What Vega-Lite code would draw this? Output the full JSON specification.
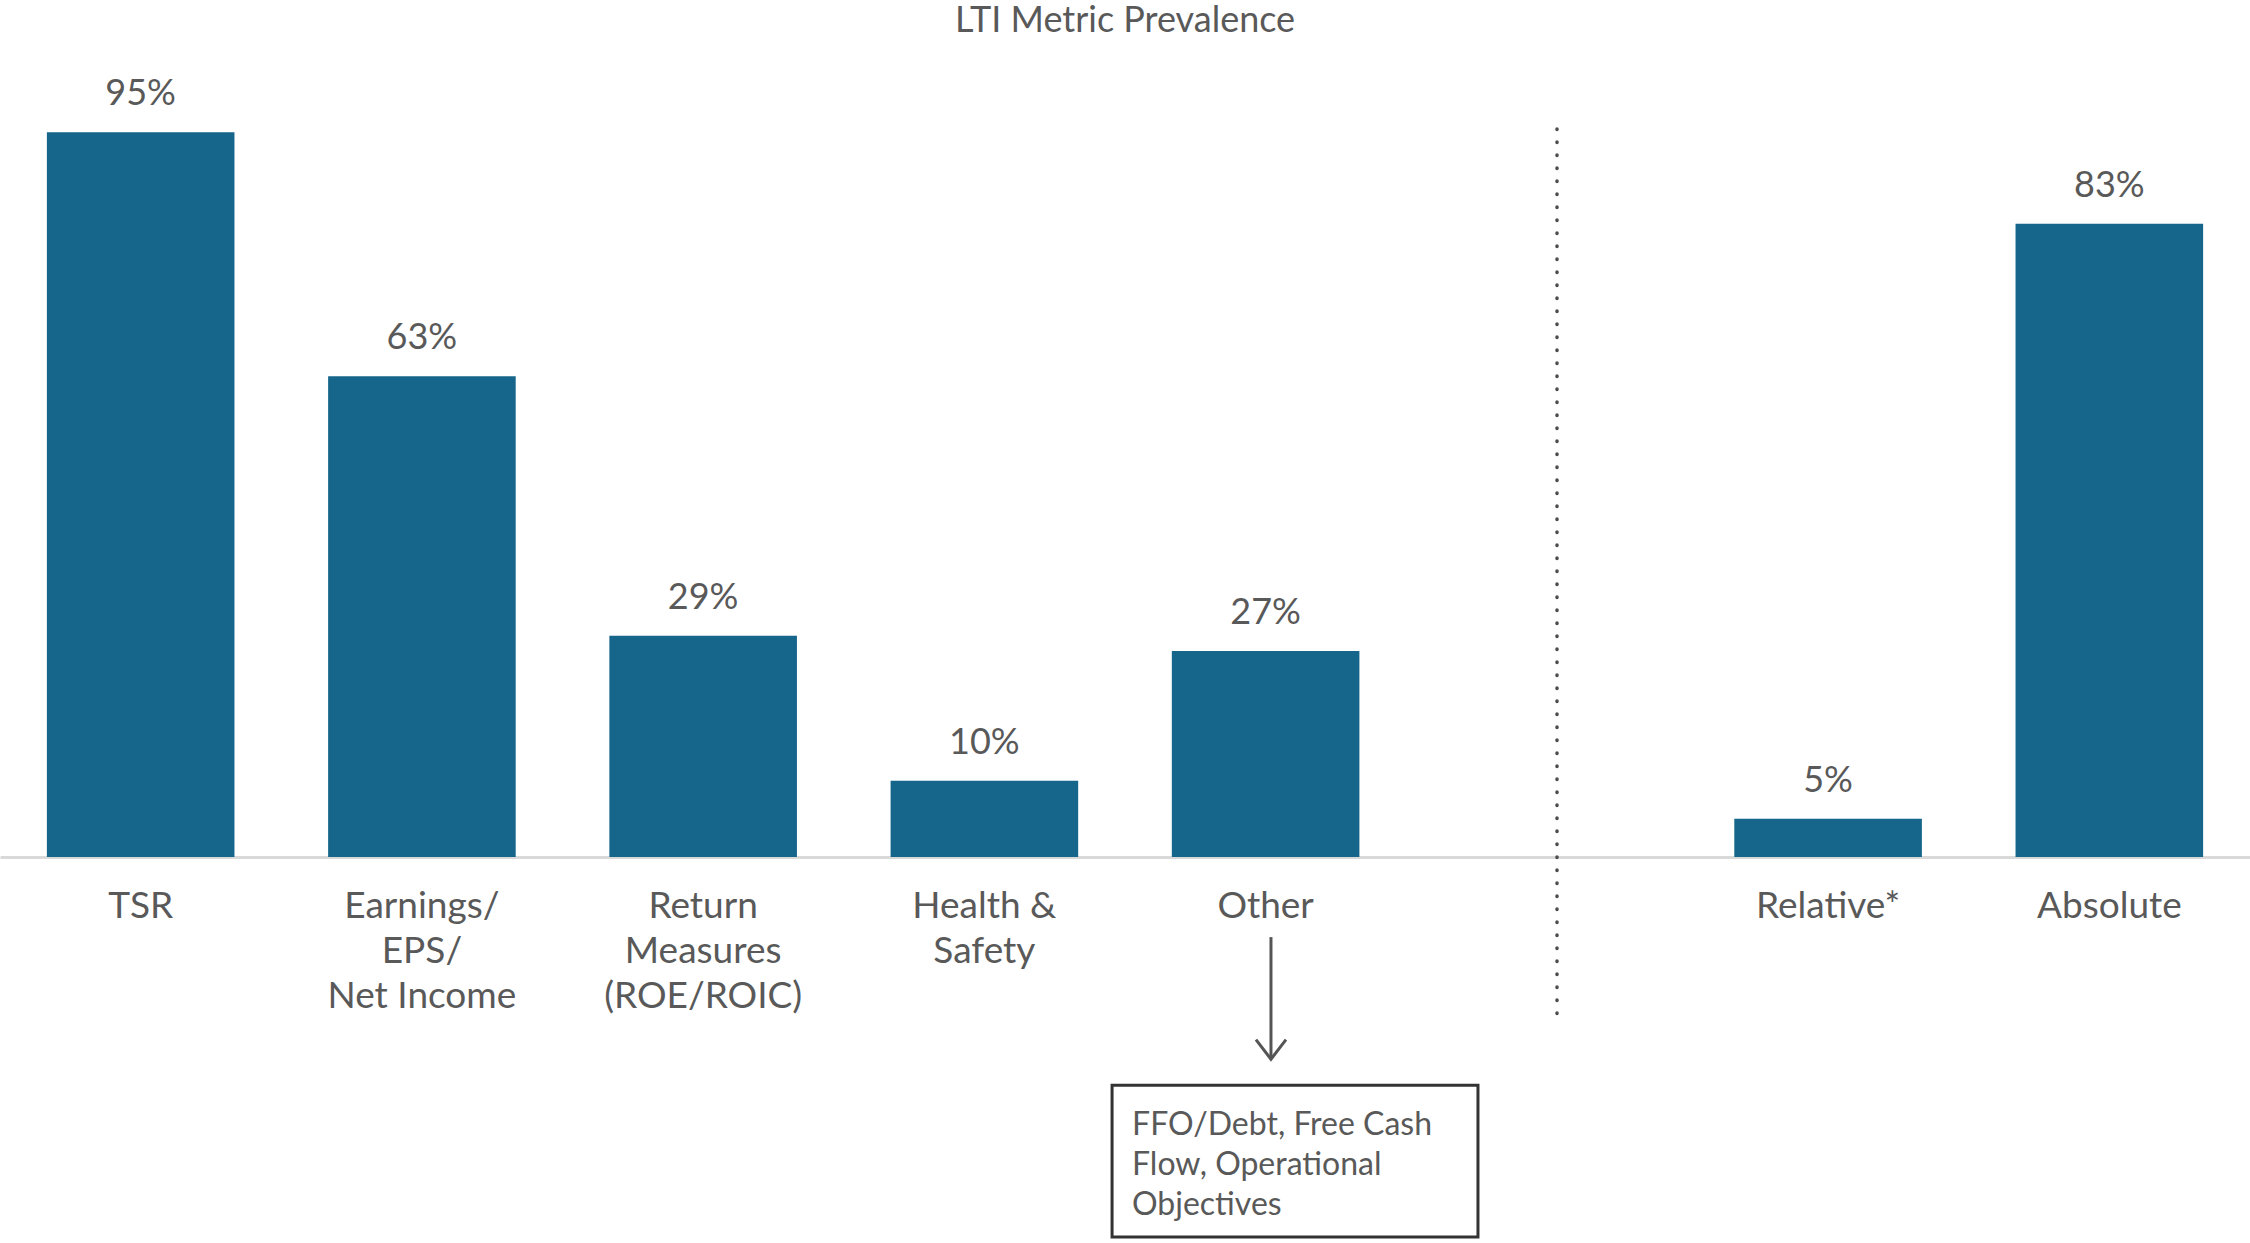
{
  "$schema": "https://vega.github.io/schema/vega-lite/v6.json",
  "width": 2250,
  "height": 763,
  "autosize": {"type": "none"},
  "padding": {"left": 0, "top": 94, "right": 0, "bottom": 386},
  "background": "white",
  "config": {"view": {"stroke": null}, "font": "Lato"},
  "title": {"text": "LTI Metric Prevalence", "fontSize": 36, "font": "Lato", "fontWeight": "normal", "color": "#595959", "frame": "group", "anchor": "middle", "baseline": "alphabetic", "offset": 8},
  "datasets": {
    "bars": [
      {"cat": "TSR", "value": 95, "label": "95%"},
      {"cat": "Earnings/|EPS/|Net Income", "value": 63, "label": "63%"},
      {"cat": "Return|Measures|(ROE/ROIC)", "value": 29, "label": "29%"},
      {"cat": "Health &|Safety", "value": 10, "label": "10%"},
      {"cat": "Other", "value": 27, "label": "27%"},
      {"cat": "Relative*", "value": 5, "label": "5%"},
      {"cat": "Absolute", "value": 83, "label": "83%"}
    ]
  },
  "layer": [
    {
      "data": {"name": "bars"},
      "encoding": {
        "x": {
          "field": "cat", "type": "nominal", "sort": null,
          "scale": {"domain": ["TSR", "Earnings/|EPS/|Net Income", "Return|Measures|(ROE/ROIC)", "Health &|Safety", "Other", "gap", "Relative*", "Absolute"], "paddingInner": 0.333, "paddingOuter": 0.1667},
          "axis": {"title": null, "orient": "bottom", "domainColor": "#d9d9d9", "domainWidth": 3, "ticks": false, "labelFontSize": 37, "labelColor": "#595959", "labelPadding": 31, "labelBaseline": "top", "labelLineHeight": 45, "labelAngle": 0, "labelLimit": 400, "labelFont": "Lato", "labelExpr": "datum.value == 'gap' ? '' : split(datum.value, '|')"}
        },
        "y": {"field": "value", "type": "quantitative", "scale": {"domain": [0, 100], "nice": false, "zero": false}, "axis": null}
      },
      "layer": [
        {"mark": {"type": "bar", "color": "#16668b"}},
        {
          "mark": {"type": "text", "dy": -27, "baseline": "alphabetic", "fontSize": 36, "color": "#595959", "font": "Lato"},
          "encoding": {"text": {"field": "label"}}
        }
      ]
    },
    {
      "layer": [
        {
          "data": {"values": [{"x": 5.536, "y": 95.4, "y2": -21.5}]},
          "mark": {"type": "rule", "color": "#4d4d4d", "strokeWidth": 3.5, "strokeDash": [0.5, 12.5], "strokeCap": "round"},
          "encoding": {
            "x": {"field": "x", "type": "quantitative", "scale": {"domain": [0, 8], "nice": false, "zero": false}, "axis": null},
            "y": {"field": "y", "type": "quantitative", "scale": {"domain": [0, 100], "nice": false, "zero": false}, "axis": null},
            "y2": {"field": "y2"}
          }
        },
        {
          "data": {"values": [{"x": 4.519, "y": -10.5, "y2": -26.3}]},
          "mark": {"type": "rule", "color": "#555555", "strokeWidth": 3},
          "encoding": {
            "x": {"field": "x", "type": "quantitative", "scale": {"domain": [0, 8], "nice": false, "zero": false}, "axis": null},
            "y": {"field": "y", "type": "quantitative", "scale": {"domain": [0, 100], "nice": false, "zero": false}, "axis": null},
            "y2": {"field": "y2"}
          }
        },
        {
          "data": {"values": [{"x": 4.519, "y": -26.5}]},
          "mark": {"type": "point", "shape": "M-1,-1.3L0,0L1,-1.3", "size": 900, "filled": false, "color": "#555555", "strokeWidth": 3, "opacity": 1},
          "encoding": {
            "x": {"field": "x", "type": "quantitative", "scale": {"domain": [0, 8], "nice": false, "zero": false}, "axis": null},
            "y": {"field": "y", "type": "quantitative", "scale": {"domain": [0, 100], "nice": false, "zero": false}, "axis": null}
          }
        },
        {
          "data": {"values": [{"x": 3.954, "x2": 5.255, "y": -29.9, "y2": -49.8}]},
          "mark": {"type": "rect", "fill": "white", "stroke": "#333333", "strokeWidth": 3},
          "encoding": {
            "x": {"field": "x", "type": "quantitative", "scale": {"domain": [0, 8], "nice": false, "zero": false}, "axis": null},
            "x2": {"field": "x2"},
            "y": {"field": "y", "type": "quantitative", "scale": {"domain": [0, 100], "nice": false, "zero": false}, "axis": null},
            "y2": {"field": "y2"}
          }
        },
        {
          "data": {"values": [{"x": 4.025, "y": -36.4, "txt": "FFO/Debt, Free Cash\nFlow, Operational\nObjectives"}]},
          "mark": {"type": "text", "align": "left", "baseline": "alphabetic", "lineBreak": "\n", "lineHeight": 40, "fontSize": 32, "color": "#595959", "font": "Lato"},
          "encoding": {
            "x": {"field": "x", "type": "quantitative", "scale": {"domain": [0, 8], "nice": false, "zero": false}, "axis": null},
            "y": {"field": "y", "type": "quantitative", "scale": {"domain": [0, 100], "nice": false, "zero": false}, "axis": null},
            "text": {"field": "txt"}
          }
        }
      ]
    }
  ],
  "resolve": {"scale": {"x": "independent"}}
}
